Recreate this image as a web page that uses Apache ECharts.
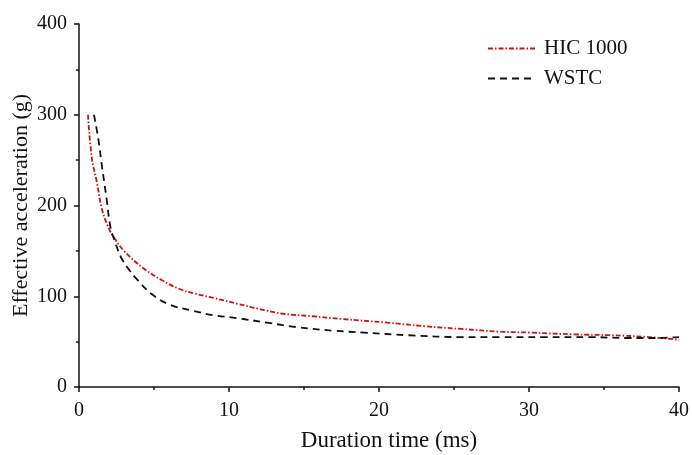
<!DOCTYPE html>
<html>
<head>
<meta charset="utf-8">
<script src="https://cdn.jsdelivr.net/npm/echarts@6/dist/echarts.min.js"></script>
<style>html,body{margin:0;padding:0;background:#fff;}#c{width:692px;height:455px;}</style>
</head>
<body>
<div id="c"></div>
<script>
var seriesNames = ['HIC 1000', 'WSTC'];
var hicX = [0.6,0.85,1.2,1.5,1.9,2.4,3.0,4.2,5.5,6.7,7.7,9,10.5,12,13.5,15.5,17.5,20.5,23,25.5,28,30,33,35.5,38,40];
var hicY = [300,253,225,198,178,163,150,132,118,108,103,98,92,86,81,78,75,71,67,64,61,60,58,57,55,52];
var wstcX = [1.0,1.3,1.5,1.85,2.1,2.4,2.8,3.3,3.9,4.8,6.0,7.6,9,10.5,12.5,14.5,17,19,22,25.5,28,31,34,36.5,38.5,40];
var wstcY = [300,272,247,206,176,160,143,130,118,103,91,84,79,76,71,66,62,60,57,55,55,55,55,54,54,55];
var xTitle = 'Duration time (ms)';
var yTitle = 'Effective acceleration (g)';

function pairs(xs, ys){ return xs.map(function(x,i){ return [x, ys[i]]; }); }
var font = 'Liberation Serif';
var chart = echarts.init(document.getElementById('c'));
chart.setOption({
  animation: false,
  backgroundColor: '#fff',
  textStyle: {fontFamily: font},
  grid: {left: 79, right: 13, top: 24, bottom: 68, containLabel: false, outerBoundsMode: 'none'},
  legend: {
    left: 487, top: 38, padding: 0, orient: 'vertical', itemWidth: 48, itemHeight: 10, itemGap: 9,
    itemStyle: {opacity: 0},
    textStyle: {fontFamily: font, fontSize: 21, color: '#111', padding: [0, 0, 0, 3]},
    data: seriesNames
  },
  xAxis: {
    type: 'value', min: 0, max: 40, interval: 10,
    name: xTitle, nameLocation: 'middle', nameGap: 42, nameMoveOverlap: false,
    nameTextStyle: {fontFamily: font, fontSize: 23, color: '#111', padding: [0, 0, 0, 20]},
    axisLine: {lineStyle: {color: '#111', width: 1.5}},
    axisTick: {show: true, length: 5, lineStyle: {color: '#111', width: 1.5}},
    minorTick: {show: true, splitNumber: 2, length: 3, lineStyle: {color: '#111', width: 1.5}},
    axisLabel: {fontFamily: font, fontSize: 20, color: '#111', margin: 14},
    splitLine: {show: false}
  },
  yAxis: {
    type: 'value', min: 0, max: 400, interval: 100,
    name: yTitle, nameLocation: 'middle', nameGap: 47, nameRotate: 90, nameMoveOverlap: false,
    nameTextStyle: {fontFamily: font, fontSize: 22, color: '#111'},
    axisLine: {show: true, lineStyle: {color: '#111', width: 1.5}},
    axisTick: {show: true, length: 5, lineStyle: {color: '#111', width: 1.5}},
    minorTick: {show: true, splitNumber: 2, length: 3, lineStyle: {color: '#111', width: 1.5}},
    axisLabel: {fontFamily: font, fontSize: 20, color: '#111', margin: 12},
    splitLine: {show: false}
  },
  series: [
    {
      name: seriesNames[0], type: 'line', data: pairs(hicX, hicY), showSymbol: false, symbol: 'none',
      smooth: 0.4,
      lineStyle: {color: '#cc1111', width: 1.8, type: [5, 2, 1.5, 2]},
      itemStyle: {color: '#cc1111'}
    },
    {
      name: seriesNames[1], type: 'line', data: pairs(wstcX, wstcY), showSymbol: false, symbol: 'none',
      smooth: 0.4,
      lineStyle: {color: '#111', width: 1.8, type: [7, 5]},
      itemStyle: {color: '#111'}
    }
  ]
});
</script>
</body>
</html>
